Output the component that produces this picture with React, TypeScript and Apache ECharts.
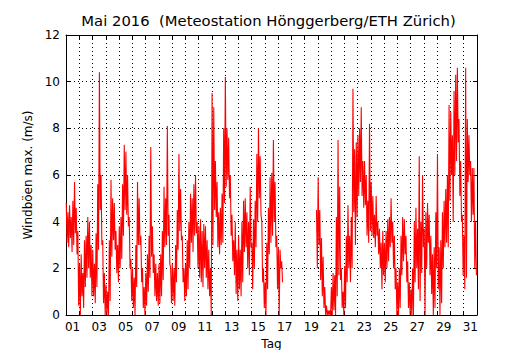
import React, { useEffect, useRef } from "react";
import * as echarts from "echarts";

// Tick labels on the day axis (label sits at the middle of the day)
const dayLabels = ["01", "03", "05", "07", "09", "11", "13", "15", "17", "19", "21", "23", "25", "27", "29", "31"];
const yTickValues = [0, 2, 4, 6, 8, 10, 12];

// Max gusts (m/s): high / low reading per 3-hour block, 8 blocks per day, May 1 .. May 31
const gustHigh: (number | null)[] = [
  4.8, 4.4, 4.7, 4.2, 4.9, 5.7, 4.6, 3.6, // 01
  2.2, 2.6, 1.8, 3.2, 3.4, 4.2, 4.0, 3.0, // 02
  2.8, 2.2, 3.5, 5.6, 10.4, 6.0, 3.2, 1.8, // 03
  1.3, 1.0, 3.2, 5.8, 5.0, 4.8, 3.6, 3.0, // 04
  3.8, 4.2, 5.6, 7.3, 7.0, 6.0, 4.2, 2.4, // 05
  2.0, 1.6, 3.0, 5.7, 5.0, 3.4, 2.0, 1.2, // 06
  1.8, 2.6, 3.4, 7.2, 3.8, 2.6, 2.2, 1.8, // 07
  2.2, 2.6, 3.6, 5.5, 5.0, 8.1, 4.3, 2.0, // 08
  2.2, 2.0, 3.0, 4.5, 6.9, 5.4, 3.4, 2.0, // 09
  2.2, 3.2, 4.0, 5.2, 5.0, 5.6, 6.0, 4.0, // 10
  3.8, 4.1, 3.6, 3.9, 3.8, 3.2, 2.8, 2.0, // 11
  9.5, 8.9, 6.6, 5.7, 4.4, 4.6, 5.2, 8.0, // 12
  10.2, 8.0, 7.6, 6.0, 4.3, 3.2, 4.0, 2.8, // 13
  3.4, 2.8, 4.0, 4.9, 5.0, 4.4, 4.0, 5.5, // 14
  3.1, 4.1, 4.9, 6.9, 8.0, 6.8, 4.0, 2.0, // 15
  1.4, 3.1, 4.6, 5.9, 6.1, 7.5, 5.7, 3.4, // 16
  2.9, 2.8, 2.3, null, null, null, null, null, // 17
  null, null, null, null, null, null, null, null, // 18
  null, null, null, null, null, null, null, 4.5, // 19
  5.9, 4.5, 3.3, 2.5, 1.2, 0.4, 0.2, 0.2, // 20
  1.2, 1.8, 1.7, 4.2, 7.5, 5.5, 2.0, 1.0, // 21
  2.1, 3.4, 4.7, 3.4, 4.2, 9.7, 7.1, 7.4, // 22
  7.7, 8.0, 8.9, 6.6, 6.6, 6.0, 4.9, 8.2, // 23
  5.7, 5.1, 4.3, 5.1, 4.0, 3.7, 3.1, 3.6, // 24
  3.1, 3.6, 4.1, 4.2, 5.0, 4.0, 3.4, 2.0, // 25
  1.4, 2.0, 3.4, 4.2, 4.1, 3.4, 2.3, 1.4, // 26
  1.1, 2.0, 4.0, 4.6, 3.7, 6.8, 4.0, 6.0, // 27
  3.7, 4.4, 4.8, 4.3, 3.4, 2.6, 2.9, 4.4, // 28
  6.9, 2.9, 3.2, 4.4, 4.9, 5.4, 6.0, 9.0, // 29
  8.7, 7.7, 9.6, 10.3, 10.6, 8.4, 6.6, 4.3, // 30
  3.4, 10.6, 8.4, 7.7, 6.6, 6.3, 6.3, 4.0, // 31
];

const gustLow: (number | null)[] = [
  3.1, 2.9, 3.3, 2.7, 3.0, 3.5, 2.6, 0.4, // 01
  0.0, 0.8, 0.3, 1.2, 1.6, 2.0, 1.6, 0.8, // 02
  0.8, 0.5, 1.2, 2.8, 4.5, 3.0, 0.5, 0.0, // 03
  0.0, 0.0, 0.6, 2.5, 3.2, 2.8, 1.8, 1.4, // 04
  2.0, 2.4, 3.4, 4.5, 4.3, 3.8, 2.0, 0.6, // 05
  0.3, 0.0, 1.2, 3.0, 3.0, 1.4, 0.3, 0.0, // 06
  0.4, 1.0, 1.6, 2.5, 1.8, 0.8, 0.6, 0.4, // 07
  0.5, 0.8, 1.5, 2.9, 3.0, 3.4, 2.2, 0.5, // 08
  0.6, 0.4, 1.4, 2.8, 3.6, 3.2, 1.4, 0.6, // 09
  0.8, 1.1, 2.0, 3.1, 2.7, 3.4, 3.5, 2.0, // 10
  1.6, 1.4, 1.2, 2.0, 1.6, 1.1, 0.8, 0.0, // 11
  3.0, 4.5, 4.2, 2.9, 2.6, 3.0, 3.1, 4.8, // 12
  5.5, 5.8, 5.0, 3.4, 2.3, 1.7, 0.9, 0.6, // 13
  1.1, 0.8, 1.4, 2.7, 2.9, 2.0, 1.7, 2.9, // 14
  1.1, 2.0, 2.9, 4.0, 5.0, 4.3, 1.4, 0.3, // 15
  0.0, 1.1, 2.6, 3.1, 3.4, 4.0, 2.9, 1.1, // 16
  0.0, 2.0, 1.4, null, null, null, null, null, // 17
  null, null, null, null, null, null, null, null, // 18
  null, null, null, null, null, null, null, 2.0, // 19
  3.0, 1.5, 0.8, 0.3, 0.0, 0.0, 0.0, 0.0, // 20
  0.0, 0.2, 0.0, 0.8, 1.7, 1.5, 0.3, 0.0, // 21
  0.3, 1.4, 2.0, 1.4, 2.0, 4.4, 3.0, 4.2, // 22
  5.1, 5.7, 5.1, 4.6, 4.7, 3.4, 3.1, 3.6, // 23
  3.4, 3.3, 2.9, 3.4, 2.6, 2.0, 1.1, 1.7, // 24
  1.4, 2.0, 2.3, 2.9, 3.1, 2.0, 1.1, 0.0, // 25
  0.0, 0.3, 1.7, 2.3, 2.6, 1.4, 0.3, 0.0, // 26
  0.0, 0.0, 1.4, 2.0, 1.1, 0.6, 1.8, 2.9, // 27
  0.0, 2.0, 3.1, 1.7, 0.9, 0.0, 0.3, 2.0, // 28
  1.1, 0.0, 0.5, 2.0, 2.9, 3.1, 2.9, 4.9, // 29
  6.0, 4.0, 6.0, 6.6, 7.4, 5.1, 4.0, 1.7, // 30
  1.1, 1.6, 5.7, 6.0, 4.0, 4.3, 2.0, 1.7, // 31
];

const BLOCKS_PER_DAY = 8;
const FONT = "DejaVu Sans";

function buildPoints(): (number | null)[][] {
  const pts: (number | null)[][] = [];
  const w = 1 / BLOCKS_PER_DAY;
  for (let i = 0; i < gustHigh.length; i++) {
    const t0 = i * w;
    const h = gustHigh[i];
    const l = gustLow[i];
    if (h == null || l == null) {
      pts.push([t0 + w / 2, null]);
      continue;
    }
    pts.push([t0 + w * 0.15, h]);
    pts.push([t0 + w * 0.65, l]);
  }
  return pts;
}

export default function App() {
  const ref = useRef<HTMLDivElement>(null);
  useEffect(() => {
    if (!ref.current) return;
    const chart = echarts.init(ref.current, undefined, { renderer: "svg" });
    const labelPos = dayLabels.map((s) => Number(s) - 0.5);
    const black = "#000";
    const option: any = {
      animation: false,
      backgroundColor: "#fff",
      title: {
        text: "Mai 2016  (Meteostation Hönggerberg/ETH Zürich)",
        left: 268.5,
        textAlign: "center",
        top: 13,
        padding: 0,
        textStyle: { fontSize: 14.8, fontWeight: "normal", fontFamily: FONT, color: black },
      },
      grid: {
        left: 66,
        right: 53,
        top: 35,
        bottom: 35,
        show: false,
        containLabel: false,
        outerBoundsMode: "none",
      },
      xAxis: [
        {
          type: "value",
          min: 0,
          max: 31,
          interval: 1,
          position: "bottom",
          name: "Tag",
          nameLocation: "middle",
          nameGap: 20,
          nameTextStyle: { fontSize: 12, fontFamily: FONT, color: black },
          axisLine: { show: true, onZero: false, lineStyle: { color: black, width: 1 } },
          axisTick: { show: true, inside: true, length: 4, lineStyle: { color: black } },
          splitLine: { show: true, lineStyle: { color: black, width: 1, type: [1, 3] } },
          axisLabel: {
            show: true,
            customValues: labelPos,
            formatter: (v: number) => {
              const n = Math.round(v + 0.5);
              return n < 10 ? "0" + n : String(n);
            },
            fontSize: 12,
            fontFamily: FONT,
            color: black,
            margin: 6,
          },
        },
        {
          type: "value",
          min: 0,
          max: 31,
          interval: 1,
          position: "top",
          axisLine: { show: true, onZero: false, lineStyle: { color: black, width: 1 } },
          axisTick: { show: true, inside: true, length: 4, lineStyle: { color: black } },
          splitLine: { show: false },
          axisLabel: { show: false },
        },
      ],
      yAxis: [
        {
          type: "value",
          min: 0,
          max: 12,
          interval: 2,
          position: "left",
          name: "Windböen max. (m/s)",
          nameLocation: "middle",
          nameGap: 24,
          nameRotate: 90,
          nameTextStyle: { fontSize: 12, fontFamily: FONT, color: black },
          axisLine: { show: true, onZero: false, lineStyle: { color: black, width: 1 } },
          axisTick: { show: true, inside: true, length: 4, lineStyle: { color: black } },
          splitLine: { show: true, lineStyle: { color: black, width: 1, type: [1, 3] } },
          axisLabel: {
            show: true,
            customValues: yTickValues,
            fontSize: 12,
            fontFamily: FONT,
            color: black,
            margin: 6,
          },
        },
        {
          type: "value",
          min: 0,
          max: 12,
          interval: 2,
          position: "right",
          axisLine: { show: true, onZero: false, lineStyle: { color: black, width: 1 } },
          axisTick: { show: true, inside: true, length: 4, lineStyle: { color: black } },
          splitLine: { show: false },
          axisLabel: { show: false },
        },
      ],
      series: [
        {
          type: "line",
          xAxisIndex: 0,
          yAxisIndex: 0,
          data: buildPoints(),
          showSymbol: false,
          symbol: "none",
          connectNulls: false,
          clip: true,
          lineStyle: { color: "#ff0000", width: 1.1 },
          z: 3,
        },
      ],
    };
    chart.setOption(option);
    return () => chart.dispose();
  }, []);
  return (
    <div
      ref={ref}
      style={{ position: "fixed", left: 0, top: 0, width: 530, height: 350, background: "#fff" }}
    />
  );
}
